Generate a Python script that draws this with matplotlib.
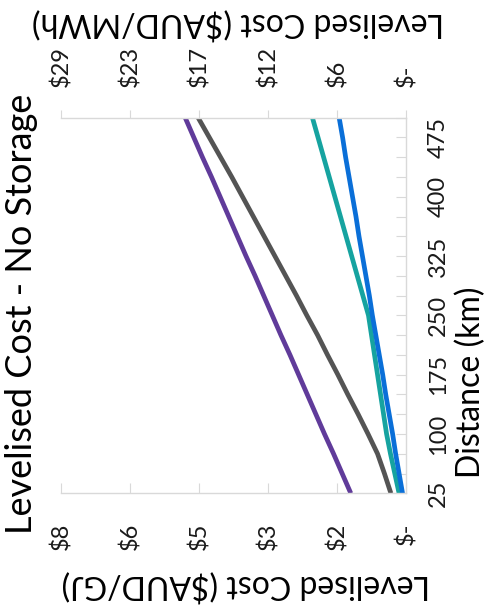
import matplotlib
matplotlib.use('Agg')
import matplotlib.pyplot as plt

# chart values (the source chart is drawn rotated 90 degrees)
distance_km = [25, 50, 75, 100, 125, 150, 175, 200, 225, 250,
               275, 300, 325, 350, 375, 400, 425, 450, 475, 500]
cost_purple = [1.28, 1.48, 1.68, 1.89, 2.09, 2.29, 2.49, 2.69, 2.90, 3.10,
               3.30, 3.50, 3.71, 3.91, 4.11, 4.31, 4.51, 4.72, 4.92, 5.12]
cost_grey = [0.35, 0.50, 0.66, 0.88, 1.11, 1.35, 1.58, 1.82, 2.05, 2.30,
             2.54, 2.79, 3.04, 3.29, 3.54, 3.79, 4.04, 4.30, 4.56, 4.82]
cost_teal = [0.16, 0.26, 0.36, 0.45, 0.52, 0.59, 0.66, 0.73, 0.80, 0.87,
             1.00, 1.13, 1.26, 1.39, 1.52, 1.65, 1.78, 1.91, 2.04, 2.17]
cost_blue = [0.08, 0.16, 0.24, 0.31, 0.39, 0.47, 0.54, 0.62, 0.70, 0.78,
             0.85, 0.93, 1.01, 1.09, 1.16, 1.24, 1.32, 1.40, 1.47, 1.55]

gj_ticks = [0, 1.6, 3.2, 4.8, 6.4, 8.0]
gj_labels = ['$-', '$2', '$3', '$5', '$6', '$8']
mwh_ticks = [0, 5.76, 11.52, 17.28, 23.04, 28.8]
mwh_labels = ['$-', '$6', '$12', '$17', '$23', '$29']
dist_labels = [25, 100, 175, 250, 325, 400, 475]

GJ_TO_MWH = 3.6

plt.rcParams['font.family'] = ['Lato', 'DejaVu Sans']
axis_col = '#D9D9D9'
txt_col = '#1a1a1a'

fig = plt.figure(figsize=(4.91, 6.10), dpi=100)
ax = fig.add_axes([61/491, 1 - 493.3/610, (406 - 61)/491, (493.3 - 117.7)/610])

ax.plot(cost_purple, distance_km, color='#603B9A', lw=3.4, solid_capstyle='butt')
ax.plot(cost_grey, distance_km, color='#545454', lw=3.4, solid_capstyle='butt')
ax.plot(cost_teal, distance_km, color='#16A3A0', lw=3.4, solid_capstyle='butt')
ax.plot(cost_blue, distance_km, color='#0A6FD8', lw=3.4, solid_capstyle='butt')

ax.set_xlim(8, 0)
ax.set_ylim(distance_km[0], distance_km[-1])

ax.spines['left'].set_visible(False)
for side in ['top', 'bottom', 'right']:
    ax.spines[side].set_color(axis_col)
    ax.spines[side].set_linewidth(1.0)

# cost axis ($/GJ) along the bottom
ax.set_xticks(gj_ticks)
ax.set_xticklabels(gj_labels, rotation=90, va='top', ha='center')
ax.tick_params(axis='x', direction='in', length=7, color=axis_col,
               labelsize=17, labelcolor=txt_col, pad=21)

# distance axis on the right
ax.yaxis.tick_right()
ax.set_yticks(distance_km)
ax.set_yticklabels([str(d) if d in dist_labels else '' for d in distance_km],
                   rotation=90, va='center', ha='left')
ax.tick_params(axis='y', direction='in', length=7, color=axis_col,
               labelsize=17, labelcolor=txt_col, pad=16)

# cost axis ($/MWh) along the top
sec = ax.secondary_xaxis('top', functions=(lambda v: v * GJ_TO_MWH,
                                           lambda v: v / GJ_TO_MWH))
sec.set_xticks(mwh_ticks)
sec.set_xticklabels(mwh_labels, rotation=90, va='bottom', ha='center')
sec.tick_params(axis='x', direction='out', length=6, color=axis_col,
                labelsize=17, labelcolor=txt_col, pad=16)
sec.spines['top'].set_visible(False)

fig.text(22/491, 1 - 314/610, 'Levelised Cost - No Storage', rotation=90,
         ha='center', va='center', fontsize=26, color='black')
fig.text(471/491, 1 - 382/610, 'Distance (km)', rotation=90,
         ha='center', va='center', fontsize=23, color='black')
fig.text(246/491, 1 - 585/610, 'Levelised Cost ($AUD/GJ)', rotation=180,
         ha='center', va='center', fontsize=23, color='black')
fig.text(238/491, 1 - 23/610, 'Levelised Cost ($AUD/MWh)', rotation=180,
         ha='center', va='center', fontsize=23, color='black')

fig.savefig('out.png', dpi=100)
